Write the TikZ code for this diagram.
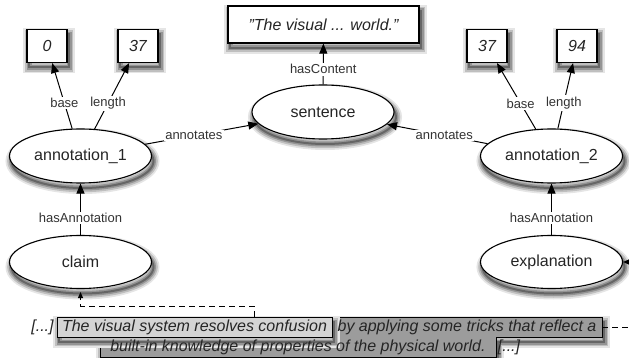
\documentclass[tikz,border=0pt]{standalone}
\usepackage{fontspec}
\setmainfont{Liberation Sans}
\usetikzlibrary{arrows.meta,shapes.geometric}

\definecolor{inkc}{HTML}{252525}
\definecolor{lblc}{HTML}{333333}
\definecolor{hlclaim}{HTML}{D4D4D4}
\definecolor{hlexpl}{HTML}{9C9C9C}

\begin{document}
\begin{tikzpicture}[x=1pt,y=-1pt,
  % soft drop shadow built from stacked grey strokes, shifted down-right
  soft/.style={
    preaction={draw=black!10,line width=12pt,fill=black!70,
      transform canvas={xshift=2pt,yshift=-5pt}},
    preaction={draw=black!25,line width=8.5pt,
      transform canvas={xshift=2pt,yshift=-5pt}},
    preaction={draw=black!42,line width=5pt,
      transform canvas={xshift=2pt,yshift=-5pt}},
    preaction={draw=black!60,line width=2pt,
      transform canvas={xshift=2pt,yshift=-5pt}}},
  res/.style={ellipse,draw,line width=1.1pt,fill=white,inner sep=0pt,
    minimum width=142pt,minimum height=54pt,
    font=\fontsize{16}{19}\selectfont,text=inkc,soft},
  lit/.style={rectangle,draw,line width=1.1pt,fill=white,inner sep=0pt,
    minimum width=40pt,minimum height=33pt,
    font=\fontsize{16}{19}\selectfont\itshape,text=inkc,soft},
  rel/.style={line width=1pt,-{Triangle[length=10pt,width=8pt]}},
  lbl/.style={fill=white,inner sep=1.5pt,font=\fontsize{13}{15}\selectfont,text=lblc},
  quote/.style={inner sep=0pt,text height=12pt,text depth=3.5pt,
    font=\fontsize{16}{19}\selectfont\itshape,text=inkc},
  hlbox/.style={quote,draw,line width=1pt,minimum height=20pt,soft},
  evidence/.style={line width=1pt,dash pattern=on 6pt off 4pt,
    -{Triangle[length=6pt,width=5pt]}},
]
\useasboundingbox (0,0) rectangle (629,358);

% resources
\node[res] (sent)  at (323,112)   {sentence};
\node[res] (ann1)  at (80.5,156)  {annotation\_1};
\node[res] (ann2)  at (551.5,156) {annotation\_2};
\node[res,minimum height=53pt] (claim) at (80.5,262)  {claim};
\node[res,minimum height=53pt] (expl)  at (551.5,262) {explanation};

% literals
\node[lit] (b1) at (47,46)  {0};
\node[lit] (l1) at (138,46) {37};
\node[lit] (b2) at (487,46) {37};
\node[lit] (l2) at (577,46) {94};
\node[lit,minimum width=191pt,minimum height=37pt] (txt) at (323.5,24.5)
  {\char34The visual ... world.\char34};

% properties
\draw[rel] (ann1) -- node[lbl,pos=0.39] {base}   (b1);
\draw[rel] (ann1) -- node[lbl,pos=0.39] {length} (l1);
\draw[rel] (ann2) -- node[lbl,pos=0.39] {base}   (b2);
\draw[rel] (ann2) -- node[lbl,pos=0.39] {length} (l2);
\draw[rel] (ann1) -- node[lbl,pos=0.43] {annotates} (sent);
\draw[rel] (ann2) -- node[lbl,pos=0.43] {annotates} (sent);
\draw[rel] (sent) -- node[lbl,pos=0.37] {hasContent} (txt);
\draw[rel] (claim) -- node[lbl,pos=0.33] {hasAnnotation} (ann1);
\draw[rel] (expl)  -- node[lbl,pos=0.33] {hasAnnotation} (ann2);

% highlighted source text
\path[fill=hlexpl,draw,line width=1pt,soft]
  (332,317) -- (602,317) -- (602,337) -- (496,337) -- (496,357)
  -- (100,357) -- (100,337) -- (332,337) -- cycle;
\node[hlbox,fill=hlclaim,minimum width=275pt] (hlc) at (194.5,327)
  {The visual system resolves confusion};
\node[quote] (hle1) at (467,327) {by applying some tricks that reflect a};
\node[quote] (hle2) at (298,347) {built-in knowledge of properties of the physical world.};
\node[quote] (ell1) at (42.5,327) {[...]};
\node[quote] (ell2) at (509,347) {[...]};
\coordinate (hleR) at (602,327);

% links from text spans to their resources
\coordinate (cj) at (254,306);
\draw[evidence,shorten >=3pt] (hlc.north -| cj) -- (cj) -| (claim.south);
\coordinate (ej) at (645,327);
\draw[evidence] (hleR) -- (ej) |- (expl.east);
\end{tikzpicture}
\end{document}
